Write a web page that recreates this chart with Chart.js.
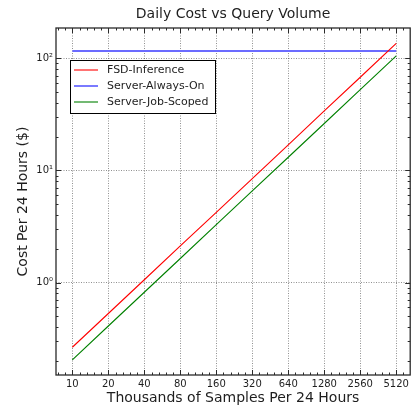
<!DOCTYPE html>
<html>
<head>
<meta charset="utf-8">
<script src="https://cdn.jsdelivr.net/npm/chart.js@4/dist/chart.umd.min.js"></script>
<style>
html,body{margin:0;padding:0;background:#fff;}
canvas{display:block;}
</style>
</head>
<body>
<canvas id="c" width="412" height="407"></canvas>
<script>
// ---- data ----
const samples = [10, 20, 40, 80, 160, 320, 640, 1280, 2560, 5120];
const fsdInference = [0.265, 0.53, 1.06, 2.12, 4.23, 8.46, 16.9, 33.9, 67.7, 135.5];
const serverAlwaysOn = [116, 116, 116, 116, 116, 116, 116, 116, 116, 116];
const serverJobScoped = [0.205, 0.41, 0.82, 1.64, 3.28, 6.56, 13.1, 26.2, 52.5, 105];
const xTickValues = [10, 20, 40, 80, 160, 320, 640, 1280, 2560, 5120];
const yTickValues = [1, 10, 100];
const yTickLabels = ['10⁰', '10¹', '10²'];
const seriesNames = ['FSD-Inference', 'Server-Always-On', 'Server-Job-Scoped'];
const chartTitle = 'Daily Cost vs Query Volume';

const FONT = 'DejaVu Sans';
const TXT = '#1e1e1e';

const toPts = arr => samples.map((s, i) => ({x: s, y: arr[i]}));

const decor = {
  id: 'decor',
  afterDraw(chart) {
    const {ctx, chartArea: a, scales: {x, y}} = chart;
    ctx.save();
    // title centred over the plot area
    ctx.fillStyle = TXT;
    ctx.font = '14px "' + FONT + '"';
    ctx.textAlign = 'center';
    ctx.textBaseline = 'middle';
    ctx.fillText(chartTitle, (a.left + a.right) / 2, 14);

    ctx.strokeStyle = '#2a2a2a';
    ctx.lineWidth = 1;
    const line = (x1, y1, x2, y2) => { ctx.beginPath(); ctx.moveTo(x1, y1); ctx.lineTo(x2, y2); ctx.stroke(); };
    // x major ticks (inward, top & bottom)
    xTickValues.forEach(v => {
      const px = Math.round(x.getPixelForValue(v)) + 0.5;
      line(px, a.bottom, px, a.bottom - 5);
      line(px, a.top, px, a.top + 5);
    });
    // x minor ticks
    for (let k = -1; k <= 9; k++) {
      [0.2, 0.4, 0.6, 0.8].forEach(f => {
        const v = 10 * Math.pow(2, k + f);
        if (v <= x.min || v >= x.max) return;
        const px = Math.round(x.getPixelForValue(v)) + 0.5;
        line(px, a.bottom, px, a.bottom - 2.5);
        line(px, a.top, px, a.top + 2.5);
      });
    }
    // y major ticks
    yTickValues.forEach(v => {
      const py = Math.round(y.getPixelForValue(v)) + 0.5;
      line(a.left, py, a.left + 5, py);
      line(a.right, py, a.right - 5, py);
    });
    // y minor ticks
    [0.1, 1, 10, 100].forEach(d => {
      for (let m = 2; m <= 9; m++) {
        const v = d * m;
        if (v <= y.min || v >= y.max) continue;
        const py = Math.round(y.getPixelForValue(v)) + 0.5;
        line(a.left, py, a.left + 2.5, py);
        line(a.right, py, a.right - 2.5, py);
      }
    });
    // frame
    ctx.lineWidth = 1.3;
    ctx.strokeRect(a.left, a.top, a.right - a.left, a.bottom - a.top);

    // legend
    const bx = 70, by = 60, bw = 145, bh = 53;
    ctx.fillStyle = '#fff';
    ctx.fillRect(bx, by, bw, bh);
    ctx.lineWidth = 1;
    ctx.strokeStyle = '#000';
    ctx.strokeRect(bx + 0.5, by + 0.5, bw, bh);
    ctx.font = '11px "' + FONT + '"';
    ctx.textBaseline = 'middle';
    ctx.textAlign = 'left';
    chart.data.datasets.forEach((ds, i) => {
      const ry = by + 10 + i * 16;
      ctx.strokeStyle = ds.borderColor;
      ctx.lineWidth = ds.borderWidth;
      line(bx + 4, ry, bx + 28, ry);
      ctx.fillStyle = TXT;
      ctx.fillText(ds.label, bx + 37, ry);
    });
    ctx.restore();
  }
};

new Chart(document.getElementById('c'), {
  type: 'line',
  data: {
    datasets: [
      {label: seriesNames[0], data: toPts(fsdInference), borderColor: '#ff0000', borderWidth: 1.1},
      {label: seriesNames[1], data: toPts(serverAlwaysOn), borderColor: '#6b6bff', borderWidth: 1.8},
      {label: seriesNames[2], data: toPts(serverJobScoped), borderColor: '#008000', borderWidth: 1.1}
    ]
  },
  options: {
    responsive: false,
    devicePixelRatio: 1,
    animation: false,
    parsing: true,
    elements: {point: {radius: 0}, line: {tension: 0}},
    layout: {padding: {left: 0, right: 1, top: 28, bottom: 0}},
    plugins: {
      legend: {display: false},
      tooltip: {enabled: false},
      title: {display: false}
    },
    scales: {
      x: {
        type: 'logarithmic',
        min: 7.3,
        max: 6700,
        bounds: 'data',
        afterBuildTicks: s => { s.ticks = xTickValues.map(v => ({value: v})); },
        afterFit: s => { s.height = 32; },
        ticks: {
          autoSkip: false, maxRotation: 0, minRotation: 0, padding: 3,
          color: TXT, font: {family: FONT, size: 10},
          callback: v => String(v)
        },
        grid: {drawTicks: false, color: 'rgba(0,0,0,0.55)', lineWidth: 0.8},
        border: {display: false, dash: [1, 1.5]},
        title: {
          display: true, text: 'Thousands of Samples Per 24 Hours', color: TXT,
          font: {family: FONT, size: 14, lineHeight: 1.2}, padding: {top: 0, bottom: 0.6}
        }
      },
      y: {
        type: 'logarithmic',
        min: 0.15,
        max: 186,
        bounds: 'data',
        afterBuildTicks: s => { s.ticks = yTickValues.map(v => ({value: v})); },
        afterFit: s => { s.width = 56; },
        ticks: {
          padding: 3, color: TXT, font: {family: FONT, size: 10},
          callback: v => { const i = yTickValues.indexOf(v); return i >= 0 ? yTickLabels[i] : ''; }
        },
        grid: {drawTicks: false, color: 'rgba(0,0,0,0.55)', lineWidth: 0.8},
        border: {display: false, dash: [1, 1.5]},
        title: {
          display: true, text: 'Cost Per 24 Hours ($)', color: TXT,
          font: {family: FONT, size: 14, lineHeight: 1.2}, padding: {top: 15, bottom: 0}
        }
      }
    }
  },
  plugins: [decor]
});
</script>
</body>
</html>
